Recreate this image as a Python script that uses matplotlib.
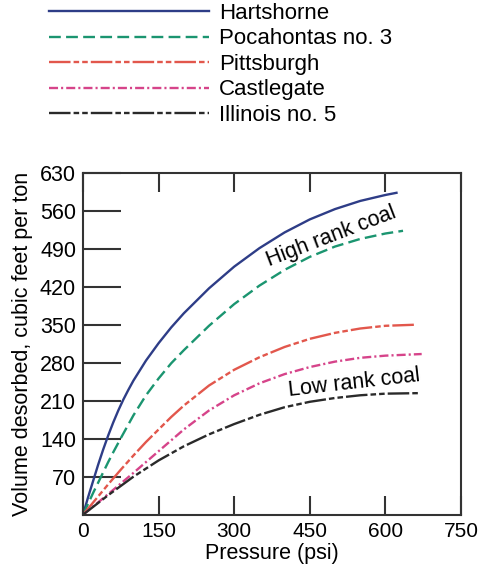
import matplotlib
matplotlib.use("Agg")
import matplotlib.pyplot as plt

plt.rcParams["font.family"] = ["Liberation Sans", "DejaVu Sans"]
plt.rcParams["lines.scale_dashes"] = False

# Desorption isotherms, pressure (psi) vs volume (cubic feet per ton)
hartshorne_p = [0, 10, 20, 30, 40, 50, 60, 70, 80, 90, 100, 125, 150, 175, 200,
                250, 300, 350, 400, 450, 500, 550, 600, 622]
hartshorne_v = [0, 32, 62, 92, 120, 146, 170, 192, 212, 230, 247, 284, 316, 345, 371,
                417, 457, 491, 520, 544, 563, 578, 589, 593]

pocahontas_p = [0, 10, 20, 30, 40, 50, 60, 75, 100, 125, 150, 175, 200, 250, 300,
                350, 400, 450, 500, 550, 600, 635]
pocahontas_v = [0, 20, 40, 59, 78, 97, 115, 141, 183, 220, 251, 279, 303, 348, 388,
                422, 451, 475, 494, 508, 518, 523]

pittsburgh_p = [0, 25, 50, 75, 100, 125, 150, 175, 200, 250, 300, 350, 400, 450, 500,
                550, 600, 660]
pittsburgh_v = [0, 28, 56, 83, 109, 134, 157, 180, 201, 238, 267, 290, 309, 324, 335,
                343, 348, 350]

castlegate_p = [0, 25, 50, 100, 150, 200, 250, 300, 350, 400, 450, 500, 550, 600, 672]
castlegate_v = [0, 19, 38, 77, 117, 157, 192, 220, 242, 259, 272, 282, 289, 293, 296]

illinois_p = [0, 25, 50, 100, 150, 200, 250, 300, 350, 400, 450, 500, 550, 600, 670]
illinois_v = [0, 18, 36, 70, 100, 126, 148, 167, 184, 198, 208, 215, 220, 223, 224]

x_ticks = [0, 150, 300, 450, 600, 750]
y_ticks = [70, 140, 210, 280, 350, 420, 490, 560, 630]

fig = plt.figure(figsize=(4.79, 5.74), dpi=100)
ax = fig.add_axes([0.1733, 0.1033, 0.7891, 0.5958])

lw = 1.7
fs = 15.5
l1, = ax.plot(hartshorne_p, hartshorne_v, color="#2e3d87", lw=lw, label="Hartshorne")
l2, = ax.plot(pocahontas_p, pocahontas_v, color="#1b9570", lw=lw,
              linestyle=(0, (8.5, 3.8)), label="Pocahontas no. 3")
l3, = ax.plot(pittsburgh_p, pittsburgh_v, color="#e2574c", lw=lw,
              linestyle=(0, (15.5, 2.2, 4, 2.2, 4, 2.2)), label="Pittsburgh")
l4, = ax.plot(castlegate_p, castlegate_v, color="#d6448a", lw=lw,
              linestyle=(0, (6.5, 2.2, 1.5, 2.2)), label="Castlegate")
l5, = ax.plot(illinois_p, illinois_v, color="#2a2a2a", lw=lw,
              linestyle=(0, (15.5, 2.2, 4, 2.2, 4, 2.2)), label="Illinois no. 5")

ax.set_xlim(0, 750)
ax.set_ylim(0, 630)
ax.set_xticks(x_ticks)
ax.set_yticks(y_ticks)
ax.tick_params(axis="y", direction="in", length=27, width=1.5, color="#333333",
               labelsize=fs, pad=5)
ax.tick_params(axis="x", direction="in", length=13.5, width=1.5, color="#333333",
               labelsize=15, pad=5, top=True)
for s in ax.spines.values():
    s.set_linewidth(1.5)
    s.set_color("#333333")

ax.set_xlabel("Pressure (psi)", fontsize=fs, labelpad=2)
ax.set_ylabel("Volume desorbed, cubic feet per ton", fontsize=fs, labelpad=5)

ax.text(493, 513, "High rank coal", fontsize=fs, rotation=21,
        ha="center", va="center")
ax.text(539, 242, "Low rank coal", fontsize=fs, rotation=6.5,
        ha="center", va="center")

fig.legend(handles=[l1, l2, l3, l4, l5], loc="upper left",
           bbox_to_anchor=(49 / 479, 1 - 3 / 574), frameon=False,
           fontsize=16, handlelength=7.2, handletextpad=0.44,
           labelspacing=0.2, borderpad=0, borderaxespad=0)

fig.savefig("out.png", dpi=100)
